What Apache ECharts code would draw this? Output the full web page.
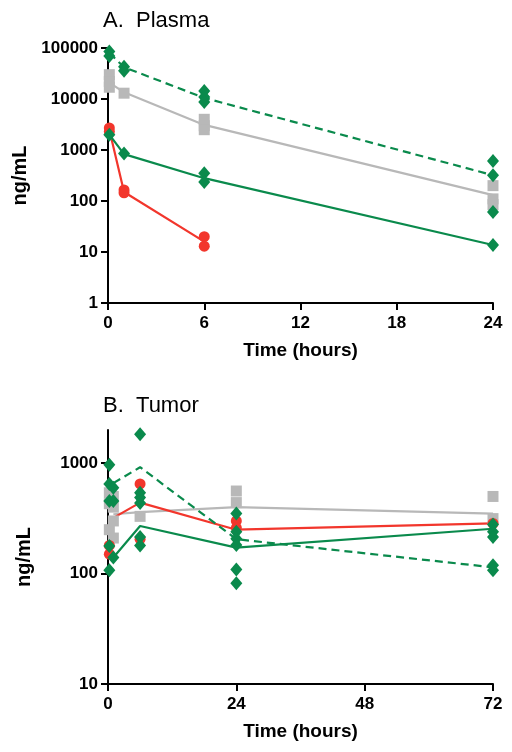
<!DOCTYPE html>
<html><head><meta charset="utf-8">
<script src="https://cdn.jsdelivr.net/npm/echarts@6/dist/echarts.min.js"></script>
<style>html,body{margin:0;padding:0;background:#fff}#c{width:512px;height:752px}</style>
</head><body><div id="c"></div>
<script>
// ---------- Panel A: Plasma ----------
const plasmaTimes = [0.083, 1, 6, 24];
const plasmaHighPts = [[85000, 70000], [43000, 36000], [14300, 11000, 8700], [610, 320]];
const plasmaLowPts  = [[2000], [850], [350, 235], [61, 13.7]];
const plasmaGrayPts = [[30000, 22000, 17000], [13000], [4000, 3000, 2500], [200, 110, 85]];
const plasmaRedPts  = [[2700, 2300], [165, 145], [20, 13]];
const plasmaHighMean = [80000, 42000, 10500, 320];
const plasmaLowMean  = [2000, 830, 280, 13.7];
const plasmaGrayMean = [21000, 13500, 3100, 130];
const plasmaRedMean  = [2500, 150, 16];
const plasmaXTicks = [0, 6, 12, 18, 24];
const plasmaYTicks = [1, 10, 100, 1000, 10000, 100000];

// ---------- Panel B: Tumor ----------
const tumorTimes = [0.25, 1, 6, 24, 72];
const tumorLineTimes = [1, 6, 24, 72];
const tumorHighPts = [[970, 650], [600, 455], [1830, 540, 490], [240, 207, 182], [119, 107]];
const tumorLowPts  = [[455, 178, 107], [140], [436, 215, 180], [350, 109, 82], [278, 240, 215]];
const tumorGrayPts = [[540, 430, 250], [500, 400, 300, 210], [330], [560, 440], [500, 315]];
const tumorRedPts  = [[150, 180], [], [650, 205], [300, 260], [285]];
const tumorHighMean = [660, 920, 205, 114];
const tumorLowMean  = [140, 270, 172, 255];
const tumorGrayMean = [345, 360, 400, 350];
const tumorRedMean  = [320, 440, 250, 285];
const tumorXTicks = [0, 24, 48, 72];
const tumorYTicks = [10, 100, 1000];

const GREEN = '#0a8a4c', RED = '#f2362c', GRAY = '#b8b8b8';
const FONT = 'Liberation Sans, Arial, sans-serif';

function pts(times, groups) {
  const out = [];
  groups.forEach((g, i) => g.forEach(v => out.push([times[i], v])));
  return out;
}
function pairs(times, vals) { return vals.map((v, i) => [times[i], v]); }

function yAx(gi, min, max, ticks, gap) {
  return {
    type: 'log', logBase: 10, gridIndex: gi, min: min, max: max,
    axisLine: { show: true, lineStyle: { color: '#000', width: 2 } },
    axisTick: { show: true, length: 7, lineStyle: { color: '#000', width: 2 }, customValues: ticks },
    axisLabel: { customValues: ticks, color: '#000', fontFamily: FONT, fontWeight: 'bold', fontSize: 17, margin: 10,
      formatter: v => String(Math.round(v)) },
    splitLine: { show: false }, minorTick: { show: false },
    name: 'ng/mL', nameLocation: 'middle', nameGap: gap,
    nameTextStyle: { color: '#000', fontFamily: FONT, fontWeight: 'bold', fontSize: 20 }
  };
}
function xAx(gi, max, interval, ticks) {
  return {
    type: 'value', gridIndex: gi, min: 0, max: max, interval: interval,
    axisLine: { show: true, onZero: false, lineStyle: { color: '#000', width: 2 } },
    axisTick: { show: true, length: 7, lineStyle: { color: '#000', width: 2 }, customValues: ticks },
    axisLabel: { customValues: ticks, color: '#000', fontFamily: FONT, fontWeight: 'bold', fontSize: 17, margin: 12 },
    splitLine: { show: false },
    name: 'Time (hours)', nameLocation: 'middle', nameGap: 38,
    nameTextStyle: { color: '#000', fontFamily: FONT, fontWeight: 'bold', fontSize: 19 }
  };
}
function lineS(gi, data, color, dashed) {
  return { type: 'line', xAxisIndex: gi, yAxisIndex: gi, data: data, symbol: 'none', z: 2,
    lineStyle: { color: color, width: 2.2, type: dashed ? [8, 5] : 'solid' }, animation: false };
}
function scat(gi, data, color, symbol, size, z) {
  return { type: 'scatter', xAxisIndex: gi, yAxisIndex: gi, data: data, symbol: symbol, symbolSize: size, z: z,
    itemStyle: { color: color, opacity: 1 }, animation: false };
}

const chart = echarts.init(document.getElementById('c'), null, { renderer: 'canvas' });
chart.setOption({
  backgroundColor: '#fff',
  animation: false,
  title: [
    { text: 'A.  Plasma', left: 98, top: 5, textStyle: { fontFamily: FONT, fontWeight: 'normal', fontSize: 22, color: '#000' } },
    { text: 'B.  Tumor', left: 98, top: 390, textStyle: { fontFamily: FONT, fontWeight: 'normal', fontSize: 22, color: '#000' } }
  ],
  grid: [
    { left: 108, right: 19, top: 48, bottom: 449, containLabel: false },
    { left: 108, right: 19, top: 430, bottom: 68, containLabel: false }
  ],
  xAxis: [xAx(0, 24, 6, plasmaXTicks), xAx(1, 72, 24, tumorXTicks)],
  yAxis: [yAx(0, 1, 100000, plasmaYTicks, 74), yAx(1, 10, 2000, tumorYTicks, 74)],
  series: [
    lineS(0, pairs(plasmaTimes, plasmaGrayMean), GRAY, false),
    lineS(0, pairs(plasmaTimes, plasmaRedMean), RED, false),
    lineS(0, pairs(plasmaTimes, plasmaLowMean), GREEN, false),
    lineS(0, pairs(plasmaTimes, plasmaHighMean), GREEN, true),
    scat(0, pts(plasmaTimes, plasmaGrayPts), GRAY, 'rect', 11, 3),
    scat(0, pts(plasmaTimes, plasmaRedPts), RED, 'circle', 11, 4),
    scat(0, pts(plasmaTimes, plasmaLowPts), GREEN, 'diamond', [12, 14], 5),
    scat(0, pts(plasmaTimes, plasmaHighPts), GREEN, 'diamond', [12, 14], 5),

    lineS(1, pairs(tumorLineTimes, tumorGrayMean), GRAY, false),
    lineS(1, pairs(tumorLineTimes, tumorRedMean), RED, false),
    lineS(1, pairs(tumorLineTimes, tumorLowMean), GREEN, false),
    lineS(1, pairs(tumorLineTimes, tumorHighMean), GREEN, true),
    scat(1, pts(tumorTimes, tumorGrayPts), GRAY, 'rect', 11, 3),
    scat(1, pts(tumorTimes, tumorRedPts), RED, 'circle', 11, 4),
    scat(1, pts(tumorTimes, tumorLowPts), GREEN, 'diamond', [12, 14], 5),
    scat(1, pts(tumorTimes, tumorHighPts), GREEN, 'diamond', [12, 14], 5)
  ]
});
</script>
</body></html>
